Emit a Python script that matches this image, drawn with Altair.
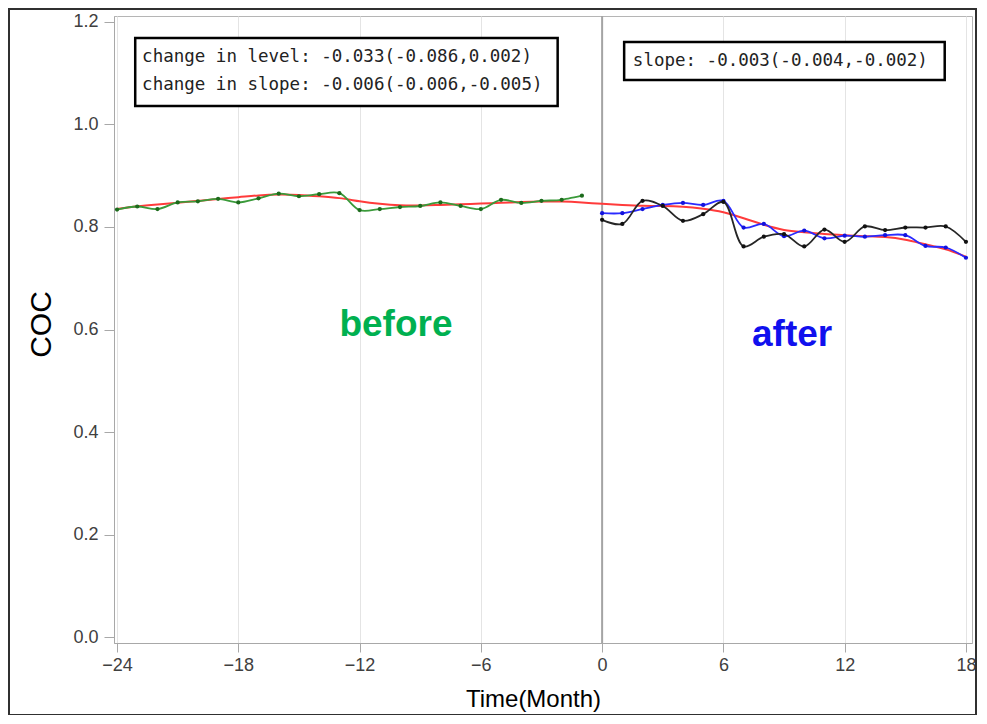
import altair as alt
import pandas as pd

# ---------------- data ----------------
months_before = list(range(-24, 0))
coc_before = [0.834, 0.840, 0.835, 0.848, 0.850, 0.855, 0.848, 0.856, 0.865, 0.860,
              0.864, 0.866, 0.833, 0.835, 0.839, 0.841, 0.848, 0.841, 0.835, 0.853,
              0.847, 0.851, 0.853, 0.861]

months_after = list(range(0, 19))
coc_after_blue = [0.827, 0.827, 0.835, 0.843, 0.847, 0.843, 0.851, 0.799, 0.806, 0.782,
                  0.793, 0.778, 0.783, 0.781, 0.784, 0.784, 0.763, 0.760, 0.740]
coc_after_black = [0.814, 0.806, 0.851, 0.841, 0.812, 0.825, 0.849, 0.762, 0.781, 0.786,
                   0.762, 0.795, 0.771, 0.801, 0.794, 0.799, 0.799, 0.801, 0.771]

months_fit = list(range(-24, 19))
coc_fit = [0.835, 0.841, 0.844, 0.847, 0.851, 0.855, 0.858, 0.862, 0.864, 0.863,
           0.860, 0.857, 0.850, 0.845, 0.842, 0.842, 0.843, 0.844, 0.846, 0.847,
           0.849, 0.850, 0.850, 0.848, 0.845, 0.843, 0.841, 0.841, 0.840, 0.836,
           0.830, 0.817, 0.804, 0.793, 0.790, 0.786, 0.784, 0.782, 0.781, 0.776,
           0.766, 0.758, 0.742]

x_ticks = [-24, -18, -12, -6, 0, 6, 12, 18]
y_ticks = [0.0, 0.2, 0.4, 0.6, 0.8, 1.0, 1.2]

# annotation boxes and texts (in data units)
box_x1 = [-23.1, 1.09]
box_x2 = [-2.2, 16.95]
box_y1 = [1.169, 1.161]
box_y2 = [1.036, 1.087]

note_x = [-22.76, -22.76, 1.52]
note_y = [1.132, 1.077, 1.123]
note_text = ["change in level: -0.033(-0.086,0.002)",
             "change in slope: -0.006(-0.006,-0.005)",
             "slope:  -0.003(-0.004,-0.002)"]

label_x = [-10.2, 9.4]
label_y = [0.587, 0.568]
label_text = ["before", "after"]
label_color = ["#00b050", "#1010ee"]

# ---------------- frames ----------------
df_before = pd.DataFrame({"month": months_before, "coc": coc_before})
df_blue = pd.DataFrame({"month": months_after, "coc": coc_after_blue})
df_black = pd.DataFrame({"month": months_after, "coc": coc_after_black})
df_fit = pd.DataFrame({"month": months_fit, "coc": coc_fit})
df_boxes = pd.DataFrame({"month": box_x1, "month2": box_x2, "coc": box_y1, "coc2": box_y2})
df_notes = pd.DataFrame({"month": note_x, "coc": note_y, "t": note_text})
df_labels = pd.DataFrame({"month": label_x, "coc": label_y, "t": label_text, "c": label_color})
df_zero = pd.DataFrame({"month": [0]})

xs = alt.Scale(domain=[-24.15, 18.3], nice=False, zero=False)
ys = alt.Scale(domain=[-0.0117, 1.2117], nice=False, zero=False)

x_axis = alt.Axis(values=x_ticks, title="Time(Month)", grid=True, gridColor="#e4e4e4",
                  labelFont="Liberation Sans", labelFontSize=18, labelColor="#404040",
                  labelPadding=4, tickSize=9, tickColor="#a8a8a8", domainColor="#a8a8a8",
                  titleFont="Liberation Sans", titleFontSize=24, titleFontWeight="normal",
                  titleColor="#000000", titleX=419, titleY=63, titleBaseline="alphabetic")
y_axis = alt.Axis(values=y_ticks, format=".1f", title="COC", grid=False,
                  labelFont="Liberation Sans", labelFontSize=18, labelColor="#404040",
                  labelPadding=6, tickSize=10, tickColor="#a8a8a8", domainColor="#a8a8a8",
                  titleFont="Liberation Sans", titleFontSize=30, titleFontWeight="normal",
                  titleColor="#000000", titleAngle=270, titleAlign="center",
                  titleBaseline="alphabetic", titleX=-64, titleY=308)

X = alt.X("month:Q", scale=xs, axis=x_axis)
Y = alt.Y("coc:Q", scale=ys, axis=y_axis)

border = alt.Chart(pd.DataFrame({"a": [1]})).mark_rect(
    fill="transparent", stroke="#303030", strokeWidth=2
).encode(x=alt.value(-105), x2=alt.value(862), y=alt.value(-7), y2=alt.value(699))

zero_rule = alt.Chart(df_zero).mark_rule(color="#a4a4a4", strokeWidth=2).encode(x=X)

fit_line = alt.Chart(df_fit).mark_line(color="#ff3b3b", strokeWidth=2, interpolate="basis").encode(x=X, y=Y)

blue_line = alt.Chart(df_blue).mark_line(color="#2a2aff", strokeWidth=1.8, interpolate="catmull-rom").encode(x=X, y=Y)
blue_pts = alt.Chart(df_blue).mark_circle(color="#1212dd", size=18, opacity=1).encode(x=X, y=Y)

black_line = alt.Chart(df_black).mark_line(color="#262626", strokeWidth=1.8, interpolate="catmull-rom").encode(x=X, y=Y)
black_pts = alt.Chart(df_black).mark_circle(color="#111111", size=18, opacity=1).encode(x=X, y=Y)

green_line = alt.Chart(df_before).mark_line(color="#3a9a3a", strokeWidth=1.8, interpolate="catmull-rom").encode(x=X, y=Y)
green_pts = alt.Chart(df_before).mark_circle(color="#1c6b1c", size=18, opacity=1).encode(x=X, y=Y)

boxes = alt.Chart(df_boxes).mark_rect(fill="white", stroke="#000000", strokeWidth=2.5).encode(
    x=X, x2="month2:Q", y=Y, y2="coc2:Q")

notes = alt.Chart(df_notes).mark_text(
    align="left", baseline="middle", font="DejaVu Sans Mono", fontSize=17.5, color="#222222"
).encode(x=X, y=Y, text="t:N")

labels = alt.Chart(df_labels).mark_text(
    align="center", baseline="alphabetic", font="Liberation Sans", fontSize=37, fontWeight="bold"
).encode(x=X, y=Y, text="t:N", color=alt.Color("c:N", scale=None))

chart = alt.layer(
    border, zero_rule, fit_line, blue_line, black_line, green_line,
    blue_pts, black_pts, green_pts, boxes, notes, labels
).properties(
    width=858, height=627,
    autosize=alt.AutoSizeParams(type="none"),
    padding={"left": 106, "top": 8, "right": 6, "bottom": 72},
    background="white",
).configure_view(stroke="#b5b5b5", strokeWidth=1)

chart.save("out.html", embed_options={"renderer": "svg", "actions": False})
